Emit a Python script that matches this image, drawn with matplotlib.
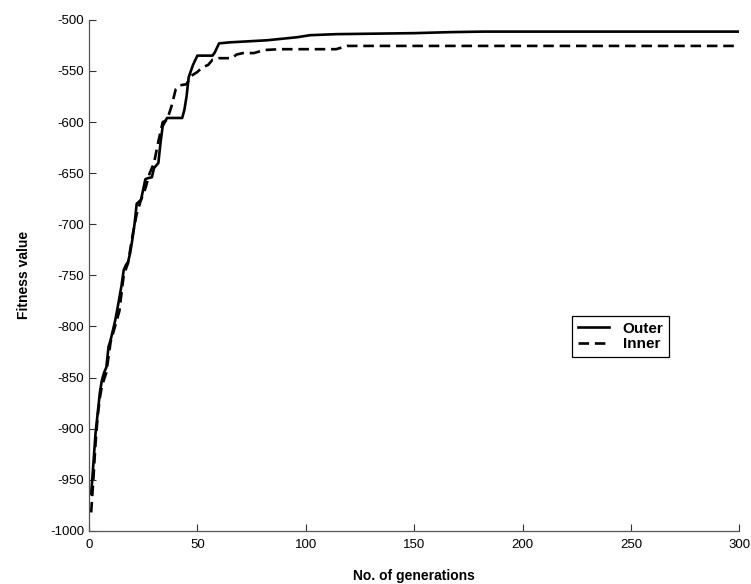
import matplotlib
matplotlib.use("Agg")
import matplotlib.pyplot as plt

plt.rcParams['font.family'] = ['Liberation Sans', 'DejaVu Sans']
plt.rcParams['axes.unicode_minus'] = False

# Outer (solid) series keypoints: generation, fitness
outer_gen = [1, 2, 3, 4, 5, 6, 7, 8, 9, 10, 12, 13, 15, 16, 17, 18, 19, 20, 21, 22,
             24, 25, 26, 27, 29, 30, 32, 33, 34, 36, 43, 44, 45, 46, 48, 50, 57, 58,
             60, 65, 82, 96, 102, 114, 150, 167, 182, 300]
outer_fit = [-964, -935, -905, -885, -865, -852, -845, -840, -820, -813, -795, -784,
             -760, -745, -740, -737, -728, -715, -700, -680, -676, -666, -656, -655,
             -654, -645, -640, -620, -604, -596, -596, -588, -575, -556, -544, -535,
             -535, -532, -523, -522, -520, -517, -515, -514, -513, -512, -511.5, -511.5]

# Inner (dashed) series keypoints
inner_gen = [1, 2, 3, 4, 5, 6, 8, 10, 12, 14, 16, 18, 20, 22, 24, 26, 28, 30, 32, 34,
             36, 38, 40, 42, 45, 47, 50, 52, 55, 57, 60, 66, 68, 71, 76, 81, 88, 114,
             119, 300]
inner_fit = [-982, -950, -915, -888, -870, -858, -845, -815, -800, -785, -750, -738,
             -712, -690, -676, -665, -650, -640, -619, -600, -598, -585, -568, -564,
             -563, -555, -551, -547, -544, -539, -537.5, -537.5, -534, -532.5, -532.5,
             -529.5, -528.7, -528.7, -525.5, -525.5]

xticks = [0, 50, 100, 150, 200, 250, 300]
yticks = [-1000, -950, -900, -850, -800, -750, -700, -650, -600, -550, -500]

fig = plt.figure(figsize=(7.51, 5.84), dpi=100)
ax = fig.add_axes([0.1185, 0.091, 0.866, 0.875])

ax.plot(outer_gen, outer_fit, color='black', lw=1.9, label='Outer')
ax.plot(inner_gen, inner_fit, color='black', lw=1.9, dashes=(4, 2.2), label='Inner')

ax.set_xlim(0, 300)
ax.set_ylim(-1000, -500)
ax.set_xticks(xticks)
ax.set_yticks(yticks)
ax.tick_params(direction='in', length=5, width=0.8, labelsize=9.5, color='#333333')
ax.tick_params(axis='x', pad=6)
for s in ['top', 'right']:
    ax.spines[s].set_visible(False)
for s in ['left', 'bottom']:
    ax.spines[s].set_color('#555555')
    ax.spines[s].set_linewidth(0.9)

ax.set_xlabel('No. of generations', fontsize=10, fontweight='bold', labelpad=13)
ax.set_ylabel('Fitness value', fontsize=10, fontweight='bold', labelpad=14)

leg = ax.legend(loc='upper left', bbox_to_anchor=(0.743, 0.421), borderaxespad=0,
                frameon=True, fancybox=False, edgecolor='black', framealpha=1,
                prop={'weight': 'bold', 'size': 11}, handlelength=2.0,
                borderpad=0.4, labelspacing=0.1, handletextpad=0.9)
leg.get_frame().set_linewidth(0.9)

fig.savefig('out.png', dpi=100)
